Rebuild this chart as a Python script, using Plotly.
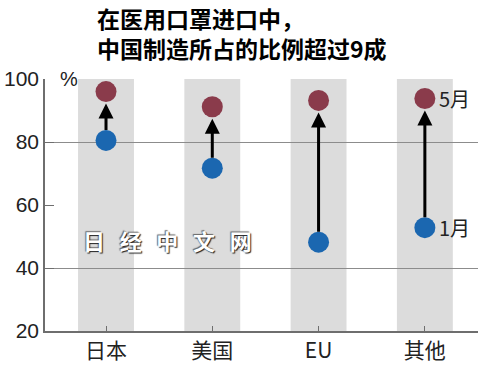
import plotly.graph_objects as go

categories = ["日本", "美国", "EU", "其他"]
may_values = [96, 91.2, 93.2, 93.8]
jan_values = [80.5, 71.7, 48.2, 52.8]
y_ticks = [20, 40, 60, 80, 100]
grid_values = [40, 80]
title_lines = ["在医用口罩进口中，", "中国制造所占的比例超过9成"]
watermark = "日经中文网"

MAY_COLOR = "#8a3b4b"
JAN_COLOR = "#1b67b0"
BAND_COLOR = "#dcdcdc"
AXIS_COLOR = "#6e6e6e"
LABEL_FONT = "Noto Sans CJK SC, Noto Sans, sans-serif"
NUM_FONT = "Liberation Sans Narrow, Liberation Sans, Arial, sans-serif"

W, H = 500, 369
L, R, T, B = 45, 22, 79, 38
PW, PH = W - L - R, H - T - B

def px_x(x):
    return (x - L) / PW

def px_y(y):
    return (H - B - y) / PH

fig = go.Figure()

fig.add_trace(go.Scatter(
    x=categories, y=jan_values, mode="markers",
    marker=dict(size=21, color=JAN_COLOR, line=dict(width=0)),
    hoverinfo="skip", showlegend=False, cliponaxis=False,
))
fig.add_trace(go.Scatter(
    x=categories, y=may_values, mode="markers",
    marker=dict(size=21, color=MAY_COLOR, line=dict(width=0)),
    hoverinfo="skip", showlegend=False, cliponaxis=False,
))

shapes = []
band_half = 0.263
for i, c in enumerate(categories):
    shapes.append(dict(type="rect", xref="x", yref="y", layer="below",
                       x0=i - band_half, x1=i + band_half, y0=y_ticks[0], y1=y_ticks[-1],
                       fillcolor=BAND_COLOR, line=dict(width=0)))

annotations = []
for c, m, j in zip(categories, may_values, jan_values):
    annotations.append(dict(
        x=c, y=m, ax=c, ay=j, xref="x", yref="y", axref="x", ayref="y",
        text="", showarrow=True, arrowhead=2, arrowsize=1.0, arrowwidth=3,
        arrowcolor="black", standoff=12, startstandoff=9,
    ))

# end labels
annotations.append(dict(x=categories[-1], y=may_values[-1], xref="x", yref="y",
                        text="5月", showarrow=False, xanchor="left", xshift=12,
                        font=dict(family=LABEL_FONT, size=20, color="#222")))
annotations.append(dict(x=categories[-1], y=jan_values[-1], xref="x", yref="y",
                        text="1月", showarrow=False, xanchor="left", xshift=12,
                        font=dict(family=LABEL_FONT, size=20, color="#222")))
# percent label
annotations.append(dict(x=px_x(58), y=px_y(79), xref="paper", yref="paper", text="%",
                        showarrow=False, xanchor="left", yanchor="middle",
                        font=dict(family=NUM_FONT, size=20, color="#222")))
# title (two lines)
annotations.append(dict(x=px_x(96), y=px_y(33), xref="paper", yref="paper",
                        text="<br>".join(title_lines), showarrow=False,
                        xanchor="left", yanchor="middle", align="left", borderpad=0,
                        font=dict(family=LABEL_FONT, size=23, color="black",
                                  weight="bold")))
# watermark
annotations.append(dict(x=px_x(167), y=px_y(240), xref="paper", yref="paper",
                        text="\u2002\u2006".join(watermark),
                        showarrow=False, xanchor="center", yanchor="middle",
                        font=dict(family=LABEL_FONT, size=22, color="white", weight="bold",
                                  shadow="1px 1px 1px #222, -1px -1px 1px #666")))

fig.update_layout(
    width=W, height=H,
    margin=dict(l=L, r=R, t=T, b=B, autoexpand=False),
    paper_bgcolor="white", plot_bgcolor="white",
    shapes=shapes, annotations=annotations,
    xaxis=dict(
        type="category", range=[-0.574, 3.5], automargin=False,
        showgrid=False, zeroline=False,
        showline=True, linecolor=AXIS_COLOR, linewidth=1.5,
        ticks="inside", ticklen=5, tickcolor=AXIS_COLOR, tickwidth=1,
        tickfont=dict(family=LABEL_FONT, size=21, color="#222"),
    ),
    yaxis=dict(
        range=[20, 100], tickvals=y_ticks, automargin=False,
        showgrid=False, zeroline=False,
        showline=True, linecolor=AXIS_COLOR, linewidth=1.5,
        ticks="inside", ticklen=9, tickcolor=AXIS_COLOR, tickwidth=1,
        tickfont=dict(family=NUM_FONT, size=21, color="#222"),
        minor=dict(tickvals=grid_values, showgrid=True, gridcolor="#8c8c8c",
                   gridwidth=1, ticks=""),
    ),
)

fig.write_html("out.html", config={"displayModeBar": False},
               post_script="document.body.style.margin='0';")
